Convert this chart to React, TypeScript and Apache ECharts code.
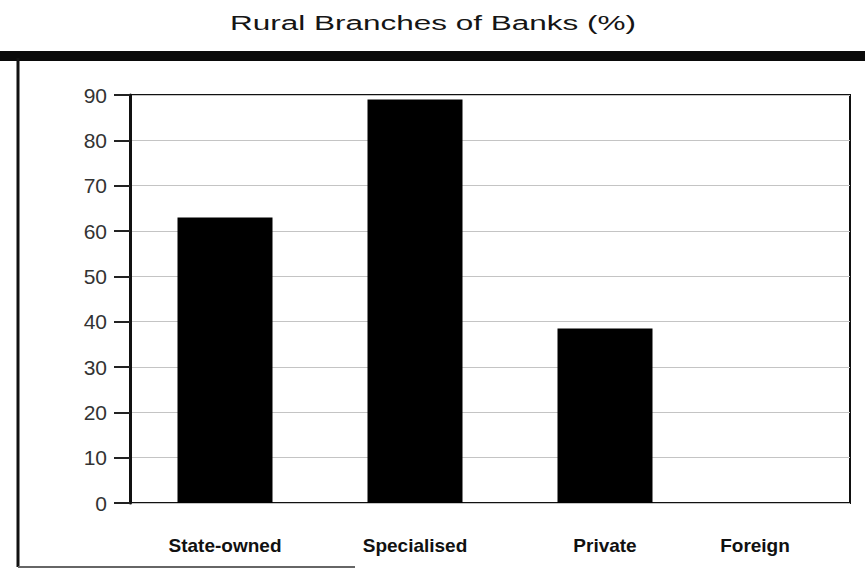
import React, { useEffect, useRef } from "react";
import * as echarts from "echarts";

const categories = ["State-owned", "Specialised", "Private", "Foreign"];
const values = [63, 89, 38.5, 0];
const yTicks = { min: 0, max: 90, interval: 10 };
const titleText = "Rural Branches of Banks (%)";

export default function App() {
  const ref = useRef<HTMLDivElement>(null);
  useEffect(() => {
    if (!ref.current) return;
    const chart = echarts.init(ref.current, null, { renderer: "svg" });
    chart.setOption({
      animation: false,
      backgroundColor: "#ffffff",
      graphic: [
        {
          type: "text",
          x: 433,
          y: 23,
          scaleX: 1.5,
          style: {
            text: titleText,
            fontFamily: "Liberation Sans, Arial, sans-serif",
            fontSize: 21,
            fill: "#151515",
            textAlign: "center",
            textVerticalAlign: "middle",
          },
        },
        { type: "rect", shape: { x: 0, y: 51, width: 865, height: 10 }, style: { fill: "#0a0a0a" } },
        { type: "line", shape: { x1: 18, y1: 58, x2: 18, y2: 567 }, style: { stroke: "#111", lineWidth: 3 } },
        { type: "line", shape: { x1: 18, y1: 567, x2: 355, y2: 567 }, style: { stroke: "#666", lineWidth: 2 } },
      ],
      grid: [
        { left: 130, top: 95, width: 720, height: 408, show: true, borderColor: "#111", borderWidth: 2, backgroundColor: "transparent" },
        { left: 130, top: 95, width: 760, height: 408 },
      ],
      xAxis: [
        { type: "value", gridIndex: 0, show: false, min: 0, max: 1 },
        {
          type: "category",
          gridIndex: 1,
          data: categories,
          axisLine: { show: false },
          axisTick: { show: false },
          axisLabel: {
            margin: 33,
            interval: 0,
            fontFamily: "Liberation Sans, Arial, sans-serif",
            fontWeight: "bold",
            fontSize: 19,
            color: "#111",
            formatter: (v: string) => (v === "Foreign" ? "{f|" + v + "}" : v),
            rich: {
              f: {
                padding: [0, 80, 0, 0],
                fontFamily: "Liberation Sans, Arial, sans-serif",
                fontWeight: "bold",
                fontSize: 19,
                color: "#111",
              },
            },
          },
        },
      ],
      yAxis: [
        {
          type: "value",
          gridIndex: 0,
          min: yTicks.min,
          max: yTicks.max,
          interval: yTicks.interval,
          axisLine: { show: true, lineStyle: { color: "#111", width: 3 } },
          axisTick: { show: true, length: 16, lineStyle: { color: "#222", width: 2 } },
          axisLabel: { margin: 23, fontFamily: "Liberation Sans, Arial, sans-serif", fontSize: 21, color: "#333" },
          splitLine: { show: true, lineStyle: { color: "#c4c4c4", width: 1 } },
        },
        { type: "value", gridIndex: 1, min: yTicks.min, max: yTicks.max, show: false, splitLine: { show: false } },
      ],
      series: [
        {
          type: "bar",
          xAxisIndex: 1,
          yAxisIndex: 1,
          data: values,
          barWidth: 95,
          itemStyle: { color: "#000" },
        },
      ],
    });
    return () => chart.dispose();
  }, []);
  return (
    <div style={{ position: "absolute", left: 0, top: 0, width: 865, height: 569, overflow: "hidden" }}>
      <div ref={ref} style={{ width: 900, height: 569 }} />
    </div>
  );
}
